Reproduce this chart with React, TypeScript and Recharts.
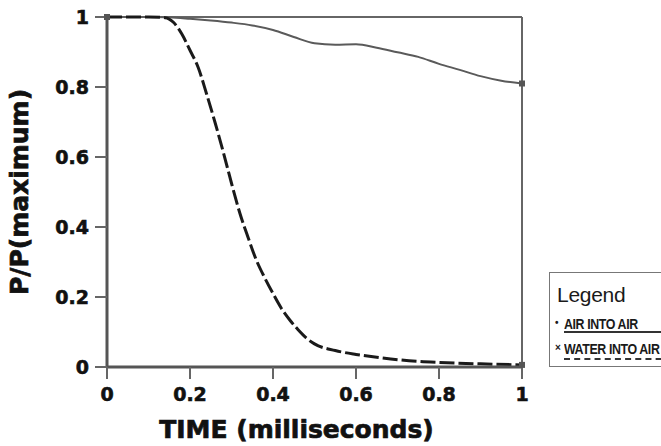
import React from "react";
import { LineChart, Line, XAxis, YAxis, ReferenceLine, Legend, Label } from "recharts";

// time in milliseconds, pressure as fraction of maximum
const airTime = [0, 0.1, 0.15, 0.2, 0.25, 0.3, 0.35, 0.4, 0.45, 0.5, 0.55, 0.6, 0.65, 0.7, 0.75, 0.8, 0.85, 0.9, 0.95, 1];
const airRatio = [1, 1, 0.999, 0.995, 0.99, 0.984, 0.976, 0.963, 0.943, 0.925, 0.921, 0.922, 0.912, 0.899, 0.886, 0.866, 0.849, 0.831, 0.818, 0.81];

const waterTime = [0, 0.1, 0.14, 0.16, 0.18, 0.2, 0.22, 0.24, 0.26, 0.28, 0.3, 0.32, 0.34, 0.36, 0.38, 0.4, 0.42, 0.44, 0.46, 0.48, 0.5, 0.55, 0.6, 0.65, 0.7, 0.75, 0.8, 0.9, 1];
const waterRatio = [1, 1, 0.998, 0.985, 0.952, 0.905, 0.855, 0.78, 0.7, 0.615, 0.525, 0.44, 0.37, 0.305, 0.255, 0.21, 0.168, 0.135, 0.107, 0.083, 0.066, 0.047, 0.036, 0.028, 0.021, 0.016, 0.013, 0.009, 0.006];

const xTicks = [0, 0.2, 0.4, 0.6, 0.8, 1];
const yTicks = [0, 0.2, 0.4, 0.6, 0.8, 1];

const airData = airTime.map((t, i) => ({ t, ratio: airRatio[i] }));
const waterData = waterTime.map((t, i) => ({ t, ratio: waterRatio[i] }));

// heavy, slightly smudged look of the scanned labels
const tickFont = { fill: "#111", stroke: "#111", strokeWidth: 0.6, fontSize: 19, fontWeight: 700, fontFamily: "DejaVu Sans" };

const endMark = (len: number) => (p: any) => {
  if (p.index === 0 || p.index === len - 1) {
    return <rect key={p.index} x={p.cx - 3} y={p.cy - 3} width={6} height={6} fill="#555" />;
  }
  return <g key={p.index} />;
};

function YTitle(props: any) {
  const vb = props.viewBox || {};
  const cy = vb.y + vb.height / 2;
  return (
    <text
      x={28}
      y={cy}
      transform={`rotate(-90 28 ${cy})`}
      textAnchor="middle"
      fill="#111"
      stroke="#111"
      strokeWidth={0.7}
      fontSize={25}
      fontWeight={700}
      fontFamily="DejaVu Sans"
    >
      P/P(maximum)
    </text>
  );
}

const rowTops = [43, 68];

function LegendBox({ payload }: any) {
  return (
    <div
      style={{
        position: "relative",
        width: 130,
        height: 93,
        border: "1px solid #777",
        background: "#fff",
        fontFamily: '"Liberation Sans", Arial, sans-serif',
        color: "#1a1a1a",
      }}
    >
      <div style={{ position: "absolute", left: 7, top: 11, fontSize: 21, lineHeight: "21px", letterSpacing: -0.3 }}>
        Legend
      </div>
      {(payload || []).map((entry: any, i: number) => {
        const dashed = entry.payload && entry.payload.strokeDasharray;
        const top = rowTops[i];
        return (
          <React.Fragment key={entry.value}>
            <div style={{ position: "absolute", left: 5, top: top + 2, fontSize: 10, lineHeight: "10px", fontWeight: 700 }}>
              {dashed ? "×" : "•"}
            </div>
            <div
              style={{
                position: "absolute",
                left: 14,
                top,
                fontSize: 15.5,
                lineHeight: "15px",
                fontWeight: 700,
                letterSpacing: -0.5,
                whiteSpace: "nowrap",
                transform: "scaleX(0.8)",
                transformOrigin: "left top",
              }}
            >
              {entry.value}
            </div>
            <div
              style={{
                position: "absolute",
                left: 14,
                top: dashed ? top + 17 : top + 15,
                width: 118,
                borderTop: dashed ? "2px dashed #333" : "2px solid #333",
              }}
            />
          </React.Fragment>
        );
      })}
    </div>
  );
}

export default function App() {
  return (
    <div style={{ position: "absolute", left: 0, top: 0, width: 661, height: 446, overflow: "hidden", background: "#fff" }}>
      <LineChart width={661} height={446} margin={{ top: 17, right: 139, bottom: 0, left: 0 }}>
        <XAxis
          dataKey="t"
          type="number"
          domain={[0, 1]}
          ticks={xTicks}
          height={79}
          axisLine={{ stroke: "#555", strokeWidth: 3 }}
          tickLine={{ stroke: "#666", strokeWidth: 2 }}
          tickSize={12}
          tickMargin={9}
          tick={tickFont}
        >
          <Label
            value="TIME (milliseconds)"
            position="insideBottom"
            offset={8}
            dx={-18}
            fill="#111"
            stroke="#111"
            strokeWidth={0.7}
            fontSize={25}
            fontWeight={700}
            fontFamily="DejaVu Sans"
          />
        </XAxis>
        <YAxis
          type="number"
          domain={[0, 1]}
          ticks={yTicks}
          width={107}
          axisLine={{ stroke: "#555", strokeWidth: 3 }}
          tickLine={{ stroke: "#666", strokeWidth: 2 }}
          tickSize={12}
          tickMargin={6}
          tick={tickFont}
        >
          <Label content={<YTitle />} />
        </YAxis>
        <ReferenceLine y={1} stroke="#666" strokeWidth={2} />
        <ReferenceLine x={1} stroke="#666" strokeWidth={2} />
        <Line
          data={airData}
          dataKey="ratio"
          name="AIR INTO AIR"
          type="monotone"
          stroke="#5a5a5a"
          strokeWidth={2}
          dot={endMark(airData.length)}
          isAnimationActive={false}
        />
        <Line
          data={waterData}
          dataKey="ratio"
          name="WATER INTO AIR"
          type="monotone"
          stroke="#1a1a1a"
          strokeWidth={3}
          strokeDasharray="15 4"
          dot={endMark(waterData.length)}
          isAnimationActive={false}
        />
        <Legend
          layout="vertical"
          align="center"
          verticalAlign="middle"
          content={<LegendBox />}
          wrapperStyle={{ left: 549, top: 272 }}
        />
      </LineChart>
    </div>
  );
}
